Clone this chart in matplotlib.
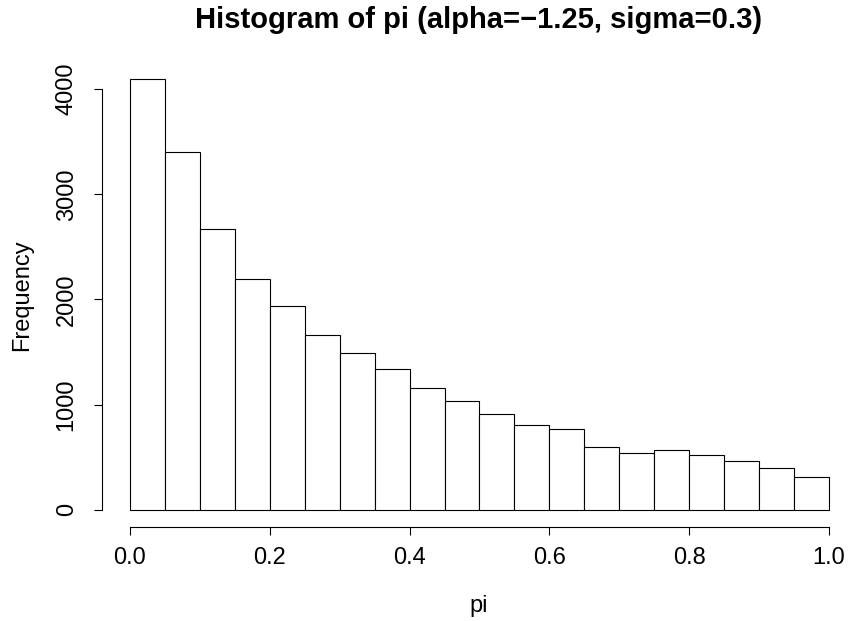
import matplotlib
matplotlib.use('Agg')
import matplotlib.pyplot as plt
import numpy as np

plt.rcParams['font.family'] = ['Liberation Sans', 'DejaVu Sans']

# histogram of pi, bins of width 0.05 on [0, 1]
bin_edges = np.linspace(0.0, 1.0, 21)
counts = [4095, 3400, 2670, 2196, 1936, 1663, 1491, 1336, 1158, 1038,
          914, 810, 771, 600, 539, 565, 520, 460, 396, 310]
xticks = [0.0, 0.2, 0.4, 0.6, 0.8, 1.0]
yticks = [0, 1000, 2000, 3000, 4000]

fig = plt.figure(figsize=(8.48, 6.21), dpi=100)
ax = fig.add_axes([102 / 848, (621 - 527) / 621, (848 - 102) / 848, (527 - 62) / 621])

ax.bar(bin_edges[:-1], counts, width=np.diff(bin_edges), align='edge',
       facecolor='white', edgecolor='black', linewidth=0.8)

ax.set_xlim(-0.04, (848 - 130) / 699)
ax.set_ylim(-164, 4259)

for s in ['top', 'right']:
    ax.spines[s].set_visible(False)
ax.spines['left'].set_bounds(0, 4000)
ax.spines['bottom'].set_bounds(0, 1)
for s in ['left', 'bottom']:
    ax.spines[s].set_linewidth(0.8)

ax.set_xticks(xticks)
ax.set_xticklabels(['%.1f' % v for v in xticks])
ax.set_yticks(yticks)
ax.set_yticklabels([str(v) for v in yticks], rotation=90, va='center')
ax.tick_params(axis='both', direction='out', length=5.5, width=0.8,
               labelsize=17)
ax.tick_params(axis='x', pad=9)
ax.tick_params(axis='y', pad=12)

fig.text(478.5 / 848, 1 - 20 / 621, 'Histogram of pi (alpha=\u22121.25, sigma=0.3)',
         ha='center', va='center', fontsize=21, fontweight='bold')
fig.text(479 / 848, 1 - 606 / 621, 'pi', ha='center', va='center', fontsize=17)
fig.text(22 / 848, 1 - 295 / 621, 'Frequency', ha='center', va='center',
         rotation=90, fontsize=17)

fig.savefig('out.png', dpi=100)
